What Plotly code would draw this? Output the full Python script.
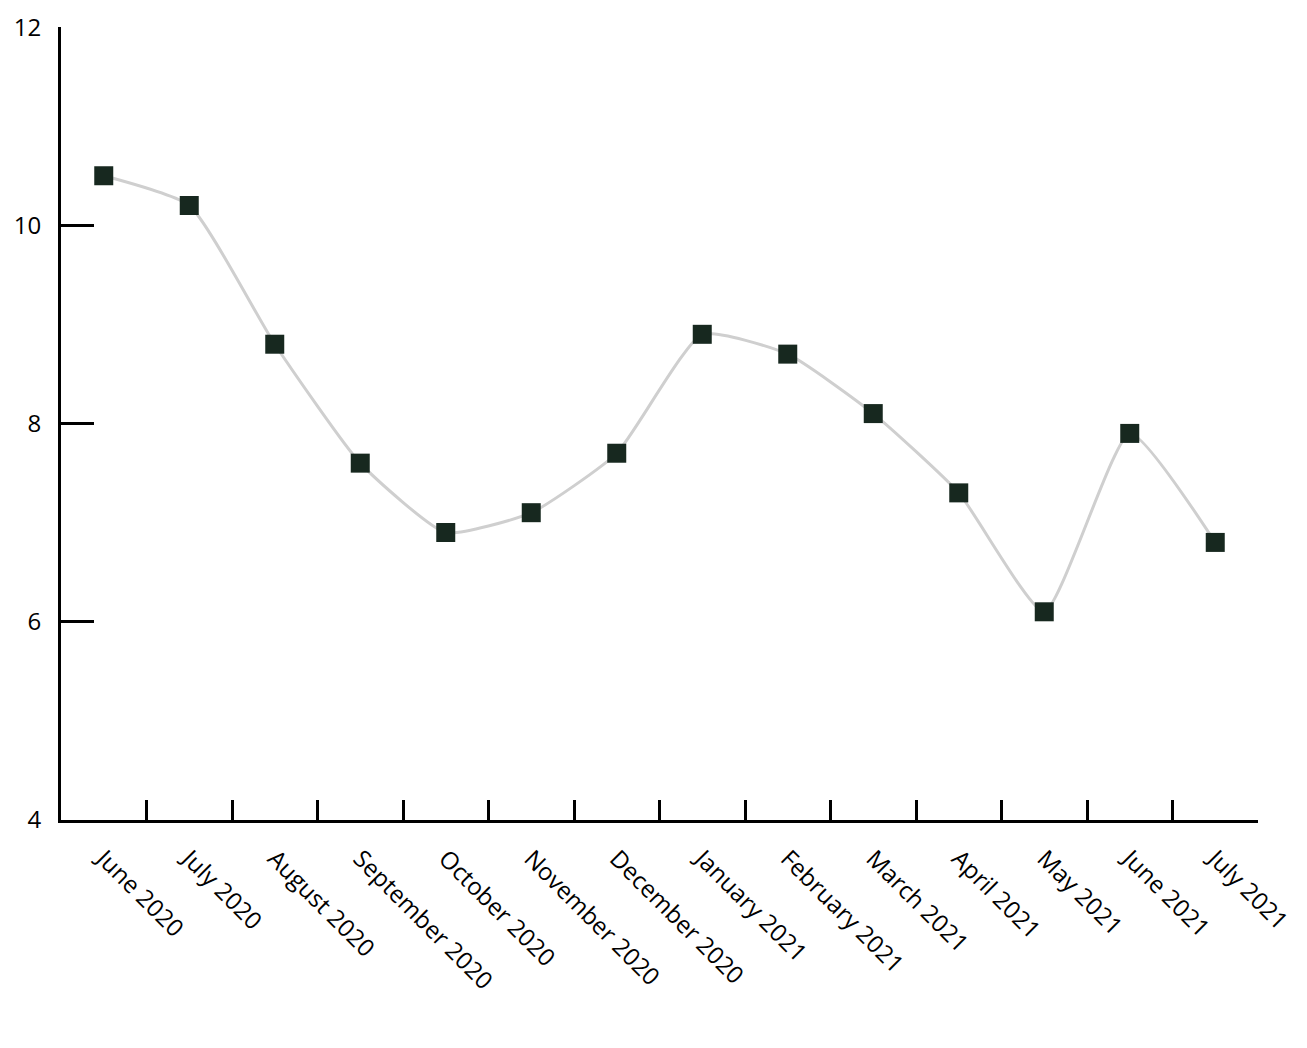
import plotly.graph_objects as go

months = ["June 2020", "July 2020", "August 2020", "September 2020", "October 2020",
          "November 2020", "December 2020", "January 2021", "February 2021", "March 2021",
          "April 2021", "May 2021", "June 2021", "July 2021"]
values = [10.5, 10.2, 8.8, 7.6, 6.9, 7.1, 7.7, 8.9, 8.7, 8.1, 7.3, 6.1, 7.9, 6.8]
y_ticks = [4, 6, 8, 10, 12]

fig = go.Figure()
fig.add_trace(go.Scatter(
    x=months, y=values, mode="lines+markers",
    line=dict(color="#cfcfcf", width=3, shape="spline", smoothing=0.5),
    marker=dict(symbol="square", size=19, color="#17281f"),
    hoverinfo="x+y", showlegend=False,
))

fig.update_layout(
    width=1291, height=1032,
    margin=dict(l=53, r=41, t=19, b=220, autoexpand=False),
    paper_bgcolor="white", plot_bgcolor="white",
    font=dict(family="Open Sans", size=24, color="#000000"),
)
fig.update_xaxes(
    type="category", range=[-0.5, len(months) - 0.5],
    tickson="boundaries", ticks="inside", ticklen=20, tickwidth=3,
    tickcolor="black", showline=True, linecolor="black", linewidth=3,
    showgrid=False, tickangle=45, tickfont=dict(size=24), zeroline=False,
    ticklabelstandoff=12, automargin=False,
)
fig.update_yaxes(
    range=[3.999, 12.001], tickvals=y_ticks, ticks="inside", ticklen=33, tickwidth=3,
    tickcolor="black", showline=True, linecolor="black", linewidth=3,
    showgrid=False, zeroline=False, tickfont=dict(size=24), ticklabelstandoff=12,
    automargin=False, ticklabeloverflow="allow",
)

fig.write_html("out.html")
